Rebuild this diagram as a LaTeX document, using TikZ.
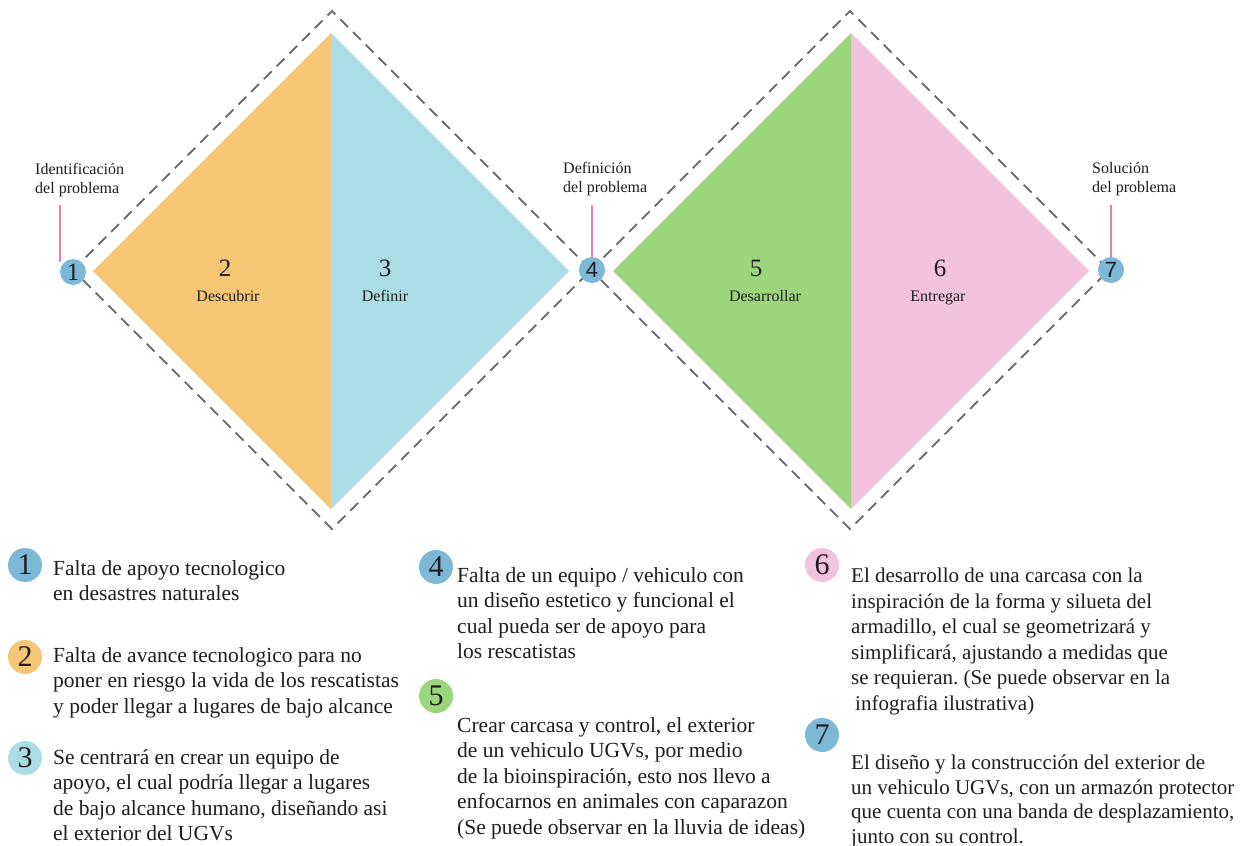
\documentclass[tikz,border=0pt]{standalone}
\usepackage{fontspec}
\setmainfont{Liberation Serif}
\newfontfamily\numsans{Liberation Sans}
\frenchspacing
\definecolor{corange}{HTML}{F6C677}
\definecolor{ccyan}{HTML}{AADDE6}
\definecolor{cgreen}{HTML}{9DD57F}
\definecolor{cpink}{HTML}{F3C3DD}
\definecolor{cblue}{HTML}{7DB9D7}
\definecolor{clcyan}{HTML}{ACDDE6}
\definecolor{cline}{HTML}{E481B5}
\definecolor{cdash}{HTML}{707070}
\definecolor{ctext}{HTML}{1E1E1E}
\tikzset{
  dashline/.style={draw=cdash, line width=2pt, dash pattern=on 11pt off 7pt},
  pinkline/.style={draw=cline, line width=1.6pt},
  topcirc/.style={circle, fill=cblue, minimum size=26pt, inner sep=0pt, text=ctext},
  bigcirc/.style={circle, minimum size=34pt, inner sep=0pt, text=ctext, font=\fontsize{30}{32}\selectfont},
  para/.style={align=left, anchor=north west, inner sep=0pt, text=ctext, font=\frenchspacing\fontsize{21.5}{25.5}\selectfont, execute at begin node=\strut},
  parathree/.style={para, font=\frenchspacing\fontsize{21}{25.5}\selectfont},
  paratight/.style={para, font=\frenchspacing\fontsize{21}{24.5}\selectfont},
  toplabel/.style={align=left, anchor=north west, inner sep=0pt, text=ctext, font=\fontsize{16}{19}\selectfont, execute at begin node=\strut},
  phasenum/.style={anchor=base, inner sep=0pt, text=ctext, font=\fontsize{25}{27}\selectfont},
  phasename/.style={anchor=base, inner sep=0pt, text=ctext, font=\fontsize{16}{18}\selectfont}
}
\begin{document}
\begin{tikzpicture}[x=1pt,y=-1pt]
\useasboundingbox[fill=white] (0,0) rectangle (1248,846);
% inner coloured diamonds
\fill[corange] (93,271) -- (331,33) -- (331,509) -- cycle;
\fill[ccyan] (331,33) -- (569,271) -- (331,509) -- cycle;
\fill[cgreen] (613,271) -- (851,33) -- (851,509) -- cycle;
\fill[cpink] (851,33) -- (1089,271) -- (851,509) -- cycle;
% dashed outer diamonds
\draw[dashline] (73,270) -- (332,11) -- (591,270) -- (332,529) -- cycle;
\draw[dashline] (591,270) -- (850,11) -- (1109,270) -- (850,529) -- cycle;
% milestone circles
\node[topcirc, font=\fontsize{25}{25}\selectfont] (c1) at (73,272) {1};
\node[topcirc, font=\numsans\fontsize{22}{22}\selectfont] (c4) at (592,270) {4};
\node[topcirc, font=\numsans\fontsize{22}{22}\selectfont] (c7) at (1111,270) {7};
% labels and pink lines
\node[toplabel] (l1) at (35,163) {Identificación\\del problema};
\node[toplabel] (l4) at (563,162) {Definición\\del problema};
\node[toplabel] (l7) at (1092,162) {Solución\\del problema};
\coordinate (p1) at (60,205);
\coordinate (q1) at (60,262);
\coordinate (p4) at (592,205);
\coordinate (p7) at (1111,205);
\draw[pinkline] (p1) -- (q1);
\draw[pinkline] (p4) -- (c4.north);
\draw[pinkline] (p7) -- (c7.north);
% phase labels
\node[phasenum] (n2) at (225,276) {2};
\node[phasename] (t2) at (228,301) {Descubrir};
\node[phasenum] (n3) at (385,276) {3};
\node[phasename] (t3) at (385,301) {Definir};
\node[phasenum] (n5) at (756,276) {5};
\node[phasename] (t5) at (765,301) {Desarrollar};
\node[phasenum] (n6) at (940,276) {6};
\node[phasename] (t6) at (938,301) {Entregar};
% legend column 1
\node[bigcirc, fill=cblue] (b1) at (25,565) {1};
\node[para] (d1) at (53,560) {Falta de apoyo tecnologico\\en desastres naturales};
\node[bigcirc, fill=corange] (b2) at (25,657) {2};
\node[para] (d2) at (53,647) {Falta de avance tecnologico para no\\poner en riesgo la vida de los rescatistas\\y poder llegar a lugares de bajo alcance};
\node[bigcirc, fill=clcyan] (b3) at (25,758) {3};
\node[para] (d3) at (53,749) {Se centrará en crear un equipo de\\apoyo, el cual podría llegar a lugares\\de bajo alcance humano, diseñando asi\\el exterior del UGVs};
% legend column 2
\node[bigcirc, fill=cblue] (b4) at (436,567) {4};
\node[para] (d4) at (457,567) {Falta de un equipo / vehiculo con\\un diseño estetico y funcional el\\cual pueda ser de apoyo para\\los rescatistas};
\node[bigcirc, fill=cgreen] (b5) at (436,696) {5};
\node[para] (d5) at (457,717) {Crear carcasa y control, el exterior\\de un vehiculo UGVs, por medio\\de la bioinspiración, esto nos llevo a\\enfocarnos en animales con caparazon\\(Se puede observar en la lluvia de ideas)};
% legend column 3
\node[bigcirc, fill=cpink] (b6) at (822,565) {6};
\node[parathree] (d6) at (851,568) {El desarrollo de una carcasa con la\\inspiración de la forma y silueta del\\armadillo, el cual se geometrizará y\\simplificará, ajustando a medidas que\\se requieran. (Se puede observar en la\\\hspace*{4pt}infografia ilustrativa)};
\node[bigcirc, fill=cblue] (b7) at (822,735) {7};
\node[paratight] (d7) at (851,755) {El diseño y la construcción del exterior de\\un vehiculo UGVs, con un armazón protector\\que cuenta con una banda de desplazamiento,\\junto con su control.};
\end{tikzpicture}
\end{document}
